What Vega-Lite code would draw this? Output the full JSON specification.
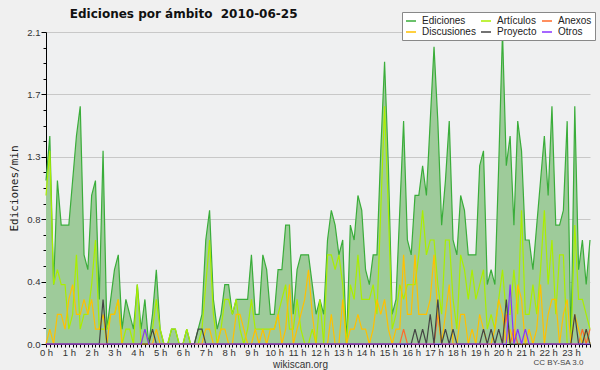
{
"$schema":"https://vega.github.io/schema/vega-lite/v6.json",
"width":544,"height":312,
"autosize":{"type":"none"},
"padding":{"left":46,"top":32,"right":10,"bottom":26},
"background":"#f0f0f0",
"config":{"view":{"stroke":null,"fill":"#eff0f1"},"font":"DejaVu Sans","axisX":{"labelOverlap":false}},
"title":{"text":"Ediciones por ámbito \u00a02010-06-25","anchor":"start","dx":61,"offset":-9,"fontSize":12,"font":"DejaVu Sans","fontWeight":"bold","color":"#111111"},
"data":{"values":[
{"t":0,"Ediciones":1.1,"Artículos":1.0,"Anexos":0,"Discusiones":0,"Proyecto":0,"Otros":0},
{"t":1,"Ediciones":1.4,"Artículos":1.3,"Anexos":0,"Discusiones":0.1,"Proyecto":0,"Otros":0},
{"t":2,"Ediciones":0.4,"Artículos":0.4,"Anexos":0,"Discusiones":0,"Proyecto":0,"Otros":0},
{"t":3,"Ediciones":1.1,"Artículos":0.5,"Anexos":0,"Discusiones":0.2,"Proyecto":0,"Otros":0},
{"t":4,"Ediciones":0.8,"Artículos":0.4,"Anexos":0,"Discusiones":0.2,"Proyecto":0,"Otros":0},
{"t":5,"Ediciones":0.8,"Artículos":0.4,"Anexos":0,"Discusiones":0.1,"Proyecto":0,"Otros":0},
{"t":6,"Ediciones":0.8,"Artículos":0.1,"Anexos":0,"Discusiones":0.3,"Proyecto":0,"Otros":0},
{"t":7,"Ediciones":1.1,"Artículos":0.2,"Anexos":0,"Discusiones":0.4,"Proyecto":0,"Otros":0},
{"t":8,"Ediciones":1.4,"Artículos":0.6,"Anexos":0,"Discusiones":0.2,"Proyecto":0,"Otros":0},
{"t":9,"Ediciones":1.6,"Artículos":0.1,"Anexos":0,"Discusiones":0.2,"Proyecto":0,"Otros":0},
{"t":10,"Ediciones":0.6,"Artículos":0.2,"Anexos":0,"Discusiones":0.3,"Proyecto":0,"Otros":0},
{"t":11,"Ediciones":0.5,"Artículos":0.2,"Anexos":0,"Discusiones":0.2,"Proyecto":0,"Otros":0},
{"t":12,"Ediciones":1.0,"Artículos":0.4,"Anexos":0,"Discusiones":0.3,"Proyecto":0,"Otros":0},
{"t":13,"Ediciones":1.1,"Artículos":0.7,"Anexos":0,"Discusiones":0.1,"Proyecto":0,"Otros":0},
{"t":14,"Ediciones":0.3,"Artículos":0.1,"Anexos":0,"Discusiones":0.1,"Proyecto":0,"Otros":0},
{"t":15,"Ediciones":1.3,"Artículos":0.1,"Anexos":0,"Discusiones":0.2,"Proyecto":0.3,"Otros":0},
{"t":16,"Ediciones":0.1,"Artículos":0.1,"Anexos":0,"Discusiones":0,"Proyecto":0,"Otros":0},
{"t":17,"Ediciones":0.3,"Artículos":0.2,"Anexos":0,"Discusiones":0.2,"Proyecto":0,"Otros":0},
{"t":18,"Ediciones":0.5,"Artículos":0.2,"Anexos":0,"Discusiones":0.2,"Proyecto":0,"Otros":0},
{"t":19,"Ediciones":0.6,"Artículos":0.3,"Anexos":0,"Discusiones":0.3,"Proyecto":0,"Otros":0},
{"t":20,"Ediciones":0.1,"Artículos":0,"Anexos":0,"Discusiones":0,"Proyecto":0,"Otros":0},
{"t":21,"Ediciones":0.3,"Artículos":0.1,"Anexos":0,"Discusiones":0,"Proyecto":0,"Otros":0},
{"t":22,"Ediciones":0.2,"Artículos":0.1,"Anexos":0,"Discusiones":0,"Proyecto":0,"Otros":0},
{"t":23,"Ediciones":0.1,"Artículos":0,"Anexos":0,"Discusiones":0,"Proyecto":0,"Otros":0},
{"t":24,"Ediciones":0.4,"Artículos":0.4,"Anexos":0,"Discusiones":0,"Proyecto":0,"Otros":0},
{"t":25,"Ediciones":0.1,"Artículos":0,"Anexos":0,"Discusiones":0,"Proyecto":0,"Otros":0},
{"t":26,"Ediciones":0.3,"Artículos":0.1,"Anexos":0,"Discusiones":0,"Proyecto":0,"Otros":0.1},
{"t":27,"Ediciones":0,"Artículos":0,"Anexos":0,"Discusiones":0,"Proyecto":0,"Otros":0},
{"t":28,"Ediciones":0.2,"Artículos":0.1,"Anexos":0,"Discusiones":0,"Proyecto":0.1,"Otros":0},
{"t":29,"Ediciones":0.5,"Artículos":0.3,"Anexos":0,"Discusiones":0.1,"Proyecto":0,"Otros":0},
{"t":30,"Ediciones":0.1,"Artículos":0.1,"Anexos":0,"Discusiones":0,"Proyecto":0,"Otros":0},
{"t":31,"Ediciones":0,"Artículos":0,"Anexos":0,"Discusiones":0,"Proyecto":0,"Otros":0},
{"t":32,"Ediciones":0,"Artículos":0,"Anexos":0,"Discusiones":0,"Proyecto":0,"Otros":0},
{"t":33,"Ediciones":0.1,"Artículos":0.1,"Anexos":0,"Discusiones":0,"Proyecto":0,"Otros":0},
{"t":34,"Ediciones":0.1,"Artículos":0.1,"Anexos":0,"Discusiones":0,"Proyecto":0,"Otros":0},
{"t":35,"Ediciones":0,"Artículos":0,"Anexos":0,"Discusiones":0,"Proyecto":0,"Otros":0},
{"t":36,"Ediciones":0,"Artículos":0,"Anexos":0,"Discusiones":0,"Proyecto":0,"Otros":0},
{"t":37,"Ediciones":0.1,"Artículos":0.1,"Anexos":0,"Discusiones":0,"Proyecto":0,"Otros":0},
{"t":38,"Ediciones":0,"Artículos":0,"Anexos":0,"Discusiones":0,"Proyecto":0,"Otros":0},
{"t":39,"Ediciones":0,"Artículos":0,"Anexos":0,"Discusiones":0,"Proyecto":0,"Otros":0},
{"t":40,"Ediciones":0.1,"Artículos":0,"Anexos":0,"Discusiones":0,"Proyecto":0.1,"Otros":0},
{"t":41,"Ediciones":0.2,"Artículos":0.1,"Anexos":0,"Discusiones":0,"Proyecto":0.1,"Otros":0},
{"t":42,"Ediciones":0.7,"Artículos":0.4,"Anexos":0,"Discusiones":0.1,"Proyecto":0,"Otros":0},
{"t":43,"Ediciones":0.9,"Artículos":0.7,"Anexos":0,"Discusiones":0.1,"Proyecto":0,"Otros":0},
{"t":44,"Ediciones":0.3,"Artículos":0.2,"Anexos":0,"Discusiones":0,"Proyecto":0,"Otros":0},
{"t":45,"Ediciones":0.1,"Artículos":0,"Anexos":0,"Discusiones":0,"Proyecto":0,"Otros":0},
{"t":46,"Ediciones":0.2,"Artículos":0.1,"Anexos":0,"Discusiones":0.1,"Proyecto":0,"Otros":0},
{"t":47,"Ediciones":0.4,"Artículos":0.3,"Anexos":0,"Discusiones":0.1,"Proyecto":0,"Otros":0},
{"t":48,"Ediciones":0.4,"Artículos":0.3,"Anexos":0,"Discusiones":0,"Proyecto":0,"Otros":0},
{"t":49,"Ediciones":0.2,"Artículos":0.2,"Anexos":0,"Discusiones":0,"Proyecto":0,"Otros":0},
{"t":50,"Ediciones":0.3,"Artículos":0.3,"Anexos":0,"Discusiones":0.2,"Proyecto":0,"Otros":0},
{"t":51,"Ediciones":0.3,"Artículos":0.1,"Anexos":0,"Discusiones":0.2,"Proyecto":0,"Otros":0},
{"t":52,"Ediciones":0.3,"Artículos":0,"Anexos":0,"Discusiones":0.1,"Proyecto":0,"Otros":0},
{"t":53,"Ediciones":0.3,"Artículos":0.1,"Anexos":0,"Discusiones":0,"Proyecto":0,"Otros":0},
{"t":54,"Ediciones":0.6,"Artículos":0.3,"Anexos":0,"Discusiones":0,"Proyecto":0,"Otros":0},
{"t":55,"Ediciones":0.2,"Artículos":0.1,"Anexos":0,"Discusiones":0.1,"Proyecto":0,"Otros":0},
{"t":56,"Ediciones":0.2,"Artículos":0.1,"Anexos":0,"Discusiones":0,"Proyecto":0,"Otros":0},
{"t":57,"Ediciones":0.6,"Artículos":0.1,"Anexos":0,"Discusiones":0.1,"Proyecto":0,"Otros":0},
{"t":58,"Ediciones":0.5,"Artículos":0.1,"Anexos":0,"Discusiones":0,"Proyecto":0,"Otros":0},
{"t":59,"Ediciones":0.2,"Artículos":0.1,"Anexos":0,"Discusiones":0.1,"Proyecto":0,"Otros":0},
{"t":60,"Ediciones":0.2,"Artículos":0.1,"Anexos":0,"Discusiones":0.1,"Proyecto":0,"Otros":0},
{"t":61,"Ediciones":0.5,"Artículos":0.2,"Anexos":0,"Discusiones":0.2,"Proyecto":0,"Otros":0},
{"t":62,"Ediciones":0.5,"Artículos":0.3,"Anexos":0,"Discusiones":0,"Proyecto":0,"Otros":0},
{"t":63,"Ediciones":0.8,"Artículos":0.4,"Anexos":0,"Discusiones":0.1,"Proyecto":0,"Otros":0},
{"t":64,"Ediciones":0.8,"Artículos":0.1,"Anexos":0,"Discusiones":0.4,"Proyecto":0,"Otros":0},
{"t":65,"Ediciones":0.2,"Artículos":0.1,"Anexos":0,"Discusiones":0,"Proyecto":0,"Otros":0},
{"t":66,"Ediciones":0.5,"Artículos":0.3,"Anexos":0,"Discusiones":0.1,"Proyecto":0,"Otros":0},
{"t":67,"Ediciones":0.6,"Artículos":0.1,"Anexos":0,"Discusiones":0.2,"Proyecto":0,"Otros":0},
{"t":68,"Ediciones":0.6,"Artículos":0,"Anexos":0,"Discusiones":0.3,"Proyecto":0,"Otros":0},
{"t":69,"Ediciones":0.6,"Artículos":0,"Anexos":0,"Discusiones":0.5,"Proyecto":0,"Otros":0},
{"t":70,"Ediciones":0.4,"Artículos":0.1,"Anexos":0,"Discusiones":0.2,"Proyecto":0,"Otros":0},
{"t":71,"Ediciones":0.2,"Artículos":0,"Anexos":0,"Discusiones":0,"Proyecto":0,"Otros":0},
{"t":72,"Ediciones":0.3,"Artículos":0.3,"Anexos":0,"Discusiones":0,"Proyecto":0,"Otros":0},
{"t":73,"Ediciones":0.2,"Artículos":0,"Anexos":0,"Discusiones":0,"Proyecto":0,"Otros":0},
{"t":74,"Ediciones":0.7,"Artículos":0.6,"Anexos":0,"Discusiones":0,"Proyecto":0,"Otros":0},
{"t":75,"Ediciones":0.9,"Artículos":0.6,"Anexos":0,"Discusiones":0.2,"Proyecto":0,"Otros":0},
{"t":76,"Ediciones":0.8,"Artículos":0.5,"Anexos":0,"Discusiones":0,"Proyecto":0,"Otros":0},
{"t":77,"Ediciones":0.6,"Artículos":0.6,"Anexos":0,"Discusiones":0,"Proyecto":0,"Otros":0},
{"t":78,"Ediciones":0.7,"Artículos":0.4,"Anexos":0,"Discusiones":0.3,"Proyecto":0,"Otros":0},
{"t":79,"Ediciones":0,"Artículos":0,"Anexos":0,"Discusiones":0,"Proyecto":0,"Otros":0},
{"t":80,"Ediciones":0.8,"Artículos":0.4,"Anexos":0,"Discusiones":0.1,"Proyecto":0,"Otros":0},
{"t":81,"Ediciones":0.7,"Artículos":0.3,"Anexos":0,"Discusiones":0.1,"Proyecto":0,"Otros":0},
{"t":82,"Ediciones":1.0,"Artículos":0.6,"Anexos":0,"Discusiones":0.2,"Proyecto":0,"Otros":0},
{"t":83,"Ediciones":0.9,"Artículos":0.3,"Anexos":0,"Discusiones":0.1,"Proyecto":0,"Otros":0},
{"t":84,"Ediciones":0.5,"Artículos":0.3,"Anexos":0,"Discusiones":0.1,"Proyecto":0,"Otros":0},
{"t":85,"Ediciones":0.4,"Artículos":0.3,"Anexos":0,"Discusiones":0,"Proyecto":0,"Otros":0},
{"t":86,"Ediciones":0.6,"Artículos":0.4,"Anexos":0,"Discusiones":0.1,"Proyecto":0,"Otros":0},
{"t":87,"Ediciones":0.6,"Artículos":0.2,"Anexos":0,"Discusiones":0.3,"Proyecto":0,"Otros":0},
{"t":88,"Ediciones":1.3,"Artículos":0.9,"Anexos":0,"Discusiones":0.2,"Proyecto":0,"Otros":0},
{"t":89,"Ediciones":1.9,"Artículos":1.6,"Anexos":0,"Discusiones":0.3,"Proyecto":0,"Otros":0},
{"t":90,"Ediciones":1.2,"Artículos":0.9,"Anexos":0,"Discusiones":0.1,"Proyecto":0,"Otros":0},
{"t":91,"Ediciones":0.2,"Artículos":0.1,"Anexos":0,"Discusiones":0,"Proyecto":0,"Otros":0},
{"t":92,"Ediciones":0.3,"Artículos":0.2,"Anexos":0,"Discusiones":0.1,"Proyecto":0,"Otros":0},
{"t":93,"Ediciones":0.9,"Artículos":0.4,"Anexos":0,"Discusiones":0.1,"Proyecto":0,"Otros":0},
{"t":94,"Ediciones":1.5,"Artículos":0.3,"Anexos":0.1,"Discusiones":0.6,"Proyecto":0,"Otros":0},
{"t":95,"Ediciones":0.7,"Artículos":0.4,"Anexos":0,"Discusiones":0.2,"Proyecto":0,"Otros":0},
{"t":96,"Ediciones":0.6,"Artículos":0.4,"Anexos":0,"Discusiones":0.2,"Proyecto":0,"Otros":0},
{"t":97,"Ediciones":1.0,"Artículos":0.4,"Anexos":0,"Discusiones":0.6,"Proyecto":0.1,"Otros":0},
{"t":98,"Ediciones":1.0,"Artículos":0.6,"Anexos":0,"Discusiones":0.2,"Proyecto":0,"Otros":0},
{"t":99,"Ediciones":1.2,"Artículos":0.9,"Anexos":0,"Discusiones":0.2,"Proyecto":0.1,"Otros":0},
{"t":100,"Ediciones":1.0,"Artículos":0.6,"Anexos":0,"Discusiones":0.2,"Proyecto":0,"Otros":0},
{"t":101,"Ediciones":1.5,"Artículos":0.7,"Anexos":0,"Discusiones":0.3,"Proyecto":0.2,"Otros":0},
{"t":102,"Ediciones":2.0,"Artículos":0.7,"Anexos":0,"Discusiones":0.6,"Proyecto":0,"Otros":0},
{"t":103,"Ediciones":1.5,"Artículos":0.4,"Anexos":0.2,"Discusiones":0.2,"Proyecto":0.3,"Otros":0},
{"t":104,"Ediciones":0.8,"Artículos":0.2,"Anexos":0,"Discusiones":0,"Proyecto":0,"Otros":0},
{"t":105,"Ediciones":1.1,"Artículos":0.7,"Anexos":0,"Discusiones":0.2,"Proyecto":0.1,"Otros":0},
{"t":106,"Ediciones":1.5,"Artículos":0.7,"Anexos":0,"Discusiones":0.4,"Proyecto":0,"Otros":0},
{"t":107,"Ediciones":0.7,"Artículos":0.3,"Anexos":0,"Discusiones":0,"Proyecto":0.1,"Otros":0},
{"t":108,"Ediciones":0.6,"Artículos":0.1,"Anexos":0,"Discusiones":0,"Proyecto":0,"Otros":0},
{"t":109,"Ediciones":1.0,"Artículos":0.6,"Anexos":0,"Discusiones":0.2,"Proyecto":0,"Otros":0},
{"t":110,"Ediciones":0.9,"Artículos":0.5,"Anexos":0,"Discusiones":0.2,"Proyecto":0,"Otros":0},
{"t":111,"Ediciones":0.6,"Artículos":0.3,"Anexos":0,"Discusiones":0,"Proyecto":0,"Otros":0},
{"t":112,"Ediciones":0.6,"Artículos":0.5,"Anexos":0,"Discusiones":0.1,"Proyecto":0,"Otros":0},
{"t":113,"Ediciones":0.6,"Artículos":0.3,"Anexos":0,"Discusiones":0,"Proyecto":0,"Otros":0},
{"t":114,"Ediciones":1.2,"Artículos":0.4,"Anexos":0,"Discusiones":0.2,"Proyecto":0,"Otros":0},
{"t":115,"Ediciones":1.3,"Artículos":0.5,"Anexos":0,"Discusiones":0.1,"Proyecto":0.1,"Otros":0},
{"t":116,"Ediciones":0.4,"Artículos":0.1,"Anexos":0,"Discusiones":0,"Proyecto":0,"Otros":0},
{"t":117,"Ediciones":0.5,"Artículos":0.2,"Anexos":0,"Discusiones":0,"Proyecto":0.1,"Otros":0},
{"t":118,"Ediciones":0.4,"Artículos":0.1,"Anexos":0,"Discusiones":0.1,"Proyecto":0,"Otros":0},
{"t":119,"Ediciones":1.2,"Artículos":0.3,"Anexos":0,"Discusiones":0.3,"Proyecto":0.1,"Otros":0},
{"t":120,"Ediciones":2.1,"Artículos":0.5,"Anexos":0,"Discusiones":0.2,"Proyecto":0,"Otros":0},
{"t":121,"Ediciones":1.2,"Artículos":0.2,"Anexos":0.2,"Discusiones":0,"Proyecto":0.3,"Otros":0},
{"t":122,"Ediciones":1.4,"Artículos":0.2,"Anexos":0,"Discusiones":0.1,"Proyecto":0,"Otros":0.4},
{"t":123,"Ediciones":0.8,"Artículos":0.5,"Anexos":0.1,"Discusiones":0,"Proyecto":0,"Otros":0},
{"t":124,"Ediciones":1.5,"Artículos":0.2,"Anexos":0,"Discusiones":0.4,"Proyecto":0,"Otros":0.1},
{"t":125,"Ediciones":1.3,"Artículos":0.9,"Anexos":0,"Discusiones":0.3,"Proyecto":0,"Otros":0},
{"t":126,"Ediciones":0.7,"Artículos":0.2,"Anexos":0,"Discusiones":0,"Proyecto":0,"Otros":0.1},
{"t":127,"Ediciones":0.7,"Artículos":0.2,"Anexos":0,"Discusiones":0.1,"Proyecto":0,"Otros":0},
{"t":128,"Ediciones":0.5,"Artículos":0.4,"Anexos":0,"Discusiones":0,"Proyecto":0,"Otros":0},
{"t":129,"Ediciones":0.8,"Artículos":0.2,"Anexos":0,"Discusiones":0.1,"Proyecto":0,"Otros":0},
{"t":130,"Ediciones":1.1,"Artículos":0.5,"Anexos":0,"Discusiones":0.4,"Proyecto":0,"Otros":0},
{"t":131,"Ediciones":1.4,"Artículos":0.9,"Anexos":0,"Discusiones":0,"Proyecto":0,"Otros":0},
{"t":132,"Ediciones":1.0,"Artículos":0.4,"Anexos":0,"Discusiones":0.2,"Proyecto":0,"Otros":0},
{"t":133,"Ediciones":1.6,"Artículos":0.7,"Anexos":0,"Discusiones":0.3,"Proyecto":0,"Otros":0},
{"t":134,"Ediciones":0.8,"Artículos":0.2,"Anexos":0,"Discusiones":0.3,"Proyecto":0,"Otros":0},
{"t":135,"Ediciones":0.8,"Artículos":0.6,"Anexos":0,"Discusiones":0,"Proyecto":0,"Otros":0},
{"t":136,"Ediciones":0.9,"Artículos":0.6,"Anexos":0,"Discusiones":0.2,"Proyecto":0,"Otros":0},
{"t":137,"Ediciones":1.5,"Artículos":0,"Anexos":0,"Discusiones":0.3,"Proyecto":0,"Otros":0},
{"t":138,"Ediciones":0,"Artículos":0,"Anexos":0,"Discusiones":0,"Proyecto":0,"Otros":0},
{"t":139,"Ediciones":1.6,"Artículos":0.8,"Anexos":0,"Discusiones":0.2,"Proyecto":0.2,"Otros":0},
{"t":140,"Ediciones":0.5,"Artículos":0.3,"Anexos":0,"Discusiones":0.1,"Proyecto":0,"Otros":0},
{"t":141,"Ediciones":0.7,"Artículos":0.3,"Anexos":0.1,"Discusiones":0,"Proyecto":0,"Otros":0},
{"t":142,"Ediciones":0.4,"Artículos":0.2,"Anexos":0,"Discusiones":0.1,"Proyecto":0.1,"Otros":0},
{"t":143,"Ediciones":0.7,"Artículos":0.1,"Anexos":0.1,"Discusiones":0,"Proyecto":0,"Otros":0}
]},
"layer":[
{"mark":{"type":"area","color":"#9ecb9a","opacity":1},
 "encoding":{
  "x":{"field":"t","type":"quantitative","scale":{"domain":[0,143],"nice":false,"zero":false},
   "axis":{"values":[0,1,2,3,4,5,6,7,8,9,10,11,12,13,14,15,16,17,18,19,20,21,22,23,24,25,26,27,28,29,30,31,32,33,34,35,36,37,38,39,40,41,42,43,44,45,46,47,48,49,50,51,52,53,54,55,56,57,58,59,60,61,62,63,64,65,66,67,68,69,70,71,72,73,74,75,76,77,78,79,80,81,82,83,84,85,86,87,88,89,90,91,92,93,94,95,96,97,98,99,100,101,102,103,104,105,106,107,108,109,110,111,112,113,114,115,116,117,118,119,120,121,122,123,124,125,126,127,128,129,130,131,132,133,134,135,136,137,138,139,140,141,142,143],
    "labelExpr":"datum.value % 6 === 0 ? (datum.value/6) + ' h' : ''",
    "tickSize":3,"tickColor":"#000000","domainColor":"#000000","grid":false,
    "labelFont":"Liberation Sans","labelFontSize":9.5,"labelColor":"#333333","labelPadding":0,"labelOverlap":false,"labelFlush":false,"labelBound":false,
    "title":"wikiscan.org","titleFont":"Liberation Sans","titleFontSize":10,"titleFontWeight":"normal","titleColor":"#333333","titleX":254,"titleY":20,"titleBaseline":"middle"}},
  "y":{"field":"Ediciones","type":"quantitative","scale":{"domain":[0,2.1],"nice":false},
   "axis":{"values":[0,0.105,0.21,0.315,0.42,0.525,0.63,0.735,0.84,0.945,1.05,1.155,1.26,1.365,1.47,1.575,1.68,1.785,1.89,1.995,2.1],
    "labelExpr":"abs(datum.value/0.42-round(datum.value/0.42))<0.01 ? format(datum.value,'.1f') : ''",
    "grid":true,"gridColor":"#c8c8c8",
    "gridOpacity":{"condition":{"test":"abs(datum.value/0.42-round(datum.value/0.42))<0.01 && datum.value>0","value":1},"value":0},
    "tickSize":{"condition":{"test":"abs(datum.value/0.42-round(datum.value/0.42))<0.01","value":5},"value":3},
    "tickColor":"#000000","domainColor":"#000000","labelFont":"Liberation Sans","labelFontSize":9.5,"labelColor":"#333333","labelPadding":1,"labelOverlap":false,"labelFlush":false,
    "title":"Ediciones/min","titleFont":"DejaVu Sans Mono","titleFontSize":11,"titleFontWeight":"normal","titleColor":"#222222","titlePadding":7}}
 }},
{"transform":[{"fold":["Ediciones","Artículos","Anexos","Discusiones","Proyecto","Otros"],"as":["serie","valor"]}],
 "mark":{"type":"line","strokeWidth":1.2},
 "encoding":{
  "x":{"field":"t","type":"quantitative",
   "axis":{"values":[0,1,2,3,4,5,6,7,8,9,10,11,12,13,14,15,16,17,18,19,20,21,22,23,24,25,26,27,28,29,30,31,32,33,34,35,36,37,38,39,40,41,42,43,44,45,46,47,48,49,50,51,52,53,54,55,56,57,58,59,60,61,62,63,64,65,66,67,68,69,70,71,72,73,74,75,76,77,78,79,80,81,82,83,84,85,86,87,88,89,90,91,92,93,94,95,96,97,98,99,100,101,102,103,104,105,106,107,108,109,110,111,112,113,114,115,116,117,118,119,120,121,122,123,124,125,126,127,128,129,130,131,132,133,134,135,136,137,138,139,140,141,142,143],
    "labelExpr":"datum.value % 6 === 0 ? (datum.value/6) + ' h' : ''",
    "tickSize":3,"tickColor":"#000000","domainColor":"#000000","grid":false,
    "labelFont":"Liberation Sans","labelFontSize":9.5,"labelColor":"#333333","labelPadding":0,"labelOverlap":false,"labelFlush":false,"labelBound":false,
    "title":"wikiscan.org","titleFont":"Liberation Sans","titleFontSize":10,"titleFontWeight":"normal","titleColor":"#333333","titleX":254,"titleY":20,"titleBaseline":"middle"}},
  "y":{"field":"valor","type":"quantitative",
   "axis":{"orient":"right","domain":false,"ticks":false,"labels":false,"grid":false,"title":"CC BY-SA 3.0","titleFont":"Liberation Sans","titleAngle":0,"titleX":-32,"titleY":330,"titleFontSize":8,"titleFontWeight":"normal","titleColor":"#444444","titleAlign":"center","titleBaseline":"middle"}},
  "color":{"field":"serie","type":"nominal",
   "scale":{"domain":["Ediciones","Artículos","Anexos","Discusiones","Proyecto","Otros"],"range":["#3aad3a","#aaee00","#ff6a2a","#ffc000","#444444","#8833ff"]},
   "legend":{"orient":"none","legendX":356,"legendY":-20,"columns":3,"direction":"horizontal","title":null,
    "fillColor":"#ffffff","strokeColor":"#888888","padding":3,"symbolType":"stroke","symbolSize":100,"symbolStrokeWidth":1.5,
    "labelFont":"Liberation Sans","labelFontSize":10,"labelColor":"#222222","rowPadding":-1,"columnPadding":2,"labelOffset":5}}
 }}
],
"resolve":{"axis":{"y":"independent"}}
}
